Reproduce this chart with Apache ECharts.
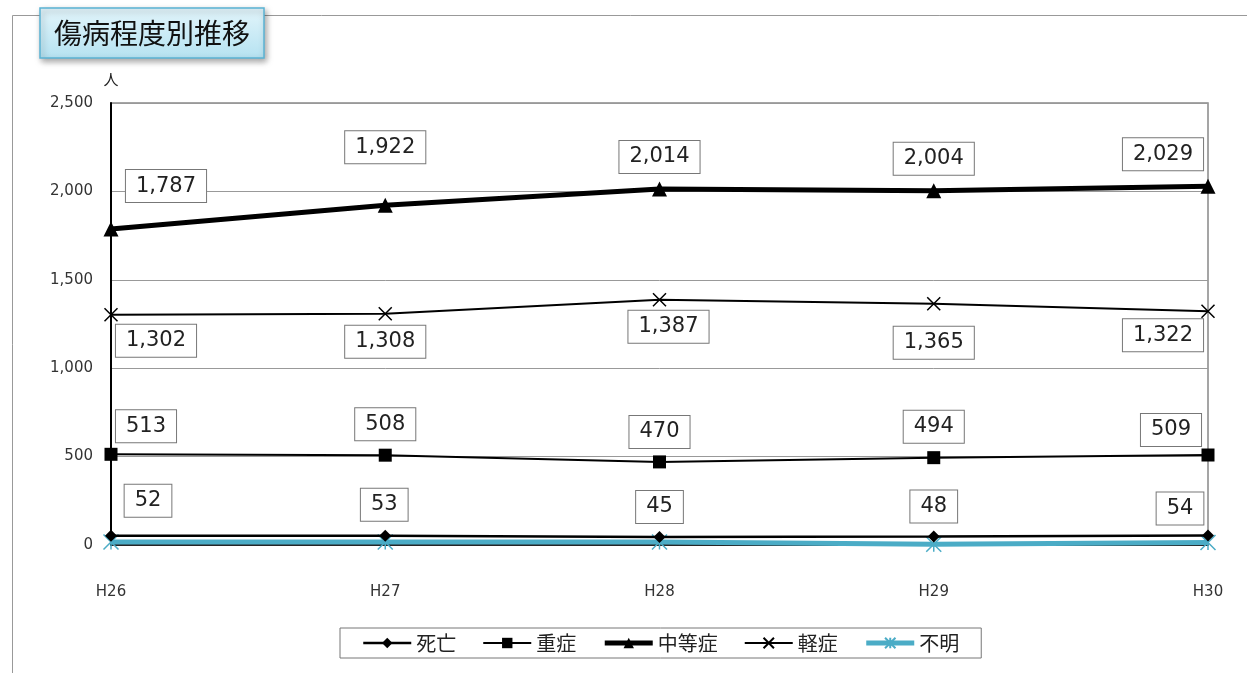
<!DOCTYPE html>
<html><head><meta charset="utf-8">
<script src="https://cdn.jsdelivr.net/npm/echarts@6/dist/echarts.min.js"></script>
<style>html,body{margin:0;padding:0;background:#fff}#c{width:1247px;height:673px}</style>
</head><body><div id="c"></div>
<script>
const categories = ['H26','H27','H28','H29','H30'];
const shibou = [52, 53, 45, 48, 54];
const juushou = [513, 508, 470, 494, 509];
const chuutou = [1787, 1922, 2014, 2004, 2029];
const keishou = [1302, 1308, 1387, 1365, 1322];
const fumei = [17, 17, 17, 4, 14];
const yTicks = {min: 0, max: 2500, interval: 500};

// label offsets (layout only)
const offShibou = [[37,-35],[-1,-31],[0,-30],[0,-30],[-28,-27]];
const offJuushou = [[35,-28],[0,-31],[0,-30],[0,-31],[-37,-25]];
const offChuutou = [[55,-43],[0,-58],[0,-32],[0,-32],[-45,-32]];
const offKeishou = [[45,26],[0,28],[9,27],[0,39],[-45,24]];

const FONT = '"Noto Sans CJK JP", "Noto Sans", sans-serif';
const NUMFONT = '"DejaVu Sans", sans-serif';
const boxLabel = {
  show: true, position: 'inside', fontSize: 21, color: '#222', fontFamily: NUMFONT,
  backgroundColor: '#fff', borderColor: '#777', borderWidth: 1, padding: [6, 10, 5, 10],
  formatter: p => p.value.toLocaleString('en-US')
};
function withLabels(values, offs) {
  return values.map((v, i) => ({value: v, label: Object.assign({}, boxLabel, {offset: offs[i]})}));
}

const chart = echarts.init(document.getElementById('c'));
chart.setOption({
  animation: false,
  textStyle: {fontFamily: FONT},
  graphic: [{
    type: 'rect', left: 10, top: 13, shape: {width: 1260, height: 700},
    style: {fill: 'none', stroke: '#999', lineWidth: 1}, z: -10
  }],
  title: {
    text: '傷病程度別推移', left: 40, top: 8,
    padding: [8, 14, 8, 14],
    backgroundColor: new echarts.graphic.LinearGradient(0, 0, 0, 1, [
      {offset: 0, color: '#e3f5fb'}, {offset: 1, color: '#b5e2f1'}]),
    borderColor: '#5ab3d3', borderWidth: 1.5,
    shadowBlur: 6, shadowOffsetX: 2, shadowOffsetY: 3, shadowColor: 'rgba(0,0,0,0.35)',
    textStyle: {fontSize: 28, fontWeight: 'normal', color: '#111', fontFamily: FONT, lineHeight: 34}
  },
  legend: {
    left: 340, top: 628, width: 640,
    padding: [5, 22, 5, 22], itemGap: 26, itemWidth: 48, itemHeight: 13,
    borderColor: '#777', borderWidth: 1,
    textStyle: {fontSize: 20, color: '#222', fontFamily: FONT},
    data: [
      {name: '死亡', lineStyle: {width: 2.5}},
      {name: '重症', lineStyle: {width: 2}},
      {name: '中等症', lineStyle: {width: 5}},
      {name: '軽症', lineStyle: {width: 2}},
      {name: '不明', lineStyle: {width: 5}}
    ]
  },
  grid: {left: 111, right: 39, top: 103, bottom: 128, show: true, borderColor: '#888', borderWidth: 1.5},
  xAxis: {
    type: 'category', data: categories, boundaryGap: false,
    axisLine: {show: true, lineStyle: {color: '#000', width: 1.5}},
    axisTick: {show: false},
    axisLabel: {margin: 40, fontSize: 15, color: '#333', fontFamily: NUMFONT}
  },
  yAxis: {
    type: 'value', min: yTicks.min, max: yTicks.max, interval: yTicks.interval,
    name: '人', nameLocation: 'end', nameGap: 24,
    nameTextStyle: {fontSize: 15, color: '#222', align: 'center', verticalAlign: 'middle'},
    axisLine: {show: true, lineStyle: {color: '#000', width: 2}},
    axisTick: {show: false},
    axisLabel: {margin: 18, fontSize: 15, color: '#333', fontFamily: NUMFONT, formatter: v => v.toLocaleString('en-US')},
    splitLine: {lineStyle: {color: '#999', width: 1}}
  },
  series: [
    {name: '不明', type: 'line', data: fumei, z: 2,
     symbol: 'path://M5,0L5,10M0,0L10,10M10,0L0,10', symbolSize: 15, showAllSymbol: true,
     lineStyle: {color: '#4bacc6', width: 5},
     itemStyle: {color: '#4bacc6', borderColor: '#4bacc6', borderWidth: 1.5}},
    {name: '死亡', type: 'line', data: withLabels(shibou, offShibou), z: 3,
     symbol: 'diamond', symbolSize: 12, showAllSymbol: true,
     lineStyle: {color: '#000', width: 2.5}, itemStyle: {color: '#000'}},
    {name: '重症', type: 'line', data: withLabels(juushou, offJuushou), z: 3,
     symbol: 'rect', symbolSize: 13, showAllSymbol: true,
     lineStyle: {color: '#000', width: 2}, itemStyle: {color: '#000'}},
    {name: '中等症', type: 'line', data: withLabels(chuutou, offChuutou), z: 3,
     symbol: 'triangle', symbolSize: 15, showAllSymbol: true,
     lineStyle: {color: '#000', width: 5}, itemStyle: {color: '#000'}},
    {name: '軽症', type: 'line', data: withLabels(keishou, offKeishou), z: 3,
     symbol: 'path://M0,0L10,10M10,0L0,10', symbolSize: 13, showAllSymbol: true,
     lineStyle: {color: '#000', width: 2},
     itemStyle: {color: '#000', borderColor: '#000', borderWidth: 1.5}}
  ]
});
</script></body></html>
